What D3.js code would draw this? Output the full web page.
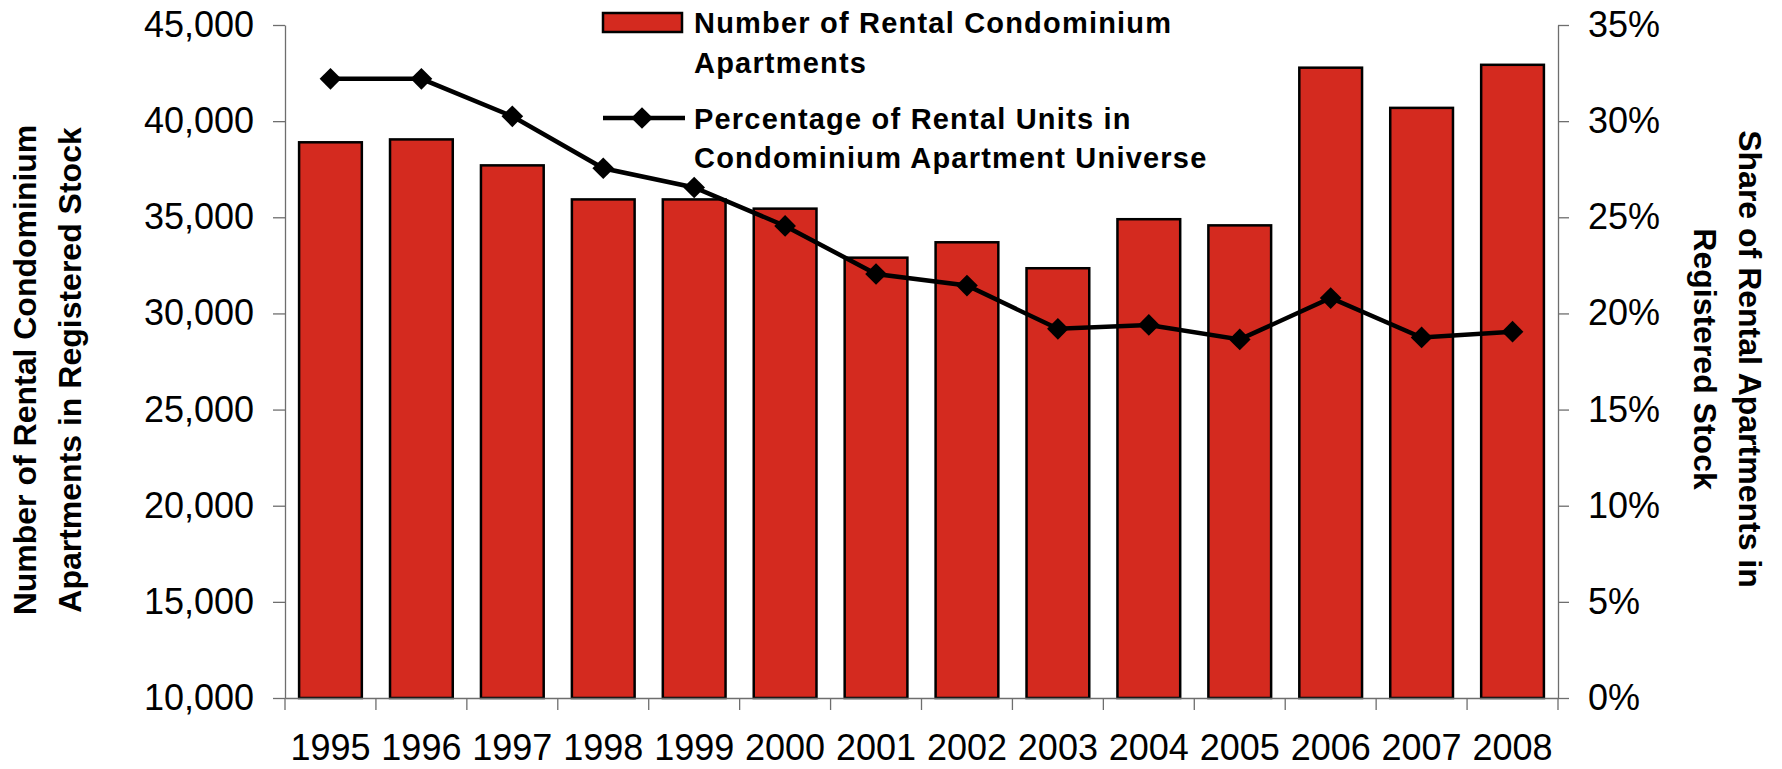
<!DOCTYPE html>
<html>
<head>
<meta charset="utf-8">
<script src="https://cdn.jsdelivr.net/npm/d3@7"></script>
<style>
  body { margin: 0; background: #fff; }
  svg { display: block; font-family: "Liberation Sans", Arial, sans-serif; }
  .axis path, .axis line { stroke: #6e6e6e; stroke-width: 1.3px; }
  .axis text { font-size: 36px; fill: #000; }
  .title { font-size: 32px; font-weight: bold; }
  .legend text { font-size: 29px; font-weight: bold; letter-spacing: 1.2px; }
</style>
</head>
<body>
<div id="chart"><svg></svg></div>
<script>
const years = ['1995','1996','1997','1998','1999','2000','2001','2002','2003','2004','2005','2006','2007','2008'];
const units = [38900, 39050, 37700, 35930, 35930, 35450, 32900, 33700, 32350, 34900, 34580, 42780, 40690, 42930];
const share = [32.2, 32.2, 30.25, 27.55, 26.55, 24.55, 22.05, 21.45, 19.2, 19.4, 18.65, 20.8, 18.75, 19.05];
const leftTicks = [10000, 15000, 20000, 25000, 30000, 35000, 40000, 45000];
const rightTicks = [0, 5, 10, 15, 20, 25, 30, 35];

const width = 1782, height = 769;
const margin = {top: 25, right: 224, bottom: 71, left: 285};
const red = '#D42A1F';

const svg = d3.select('#chart svg')
    .attr('width', width)
    .attr('height', height);

const x = d3.scaleBand()
    .domain(years)
    .range([margin.left, width - margin.right])
    .paddingInner(0.31)
    .paddingOuter(0.155);

const y = d3.scaleLinear()
    .domain([10000, 45000])
    .range([height - margin.bottom, margin.top]);

const y2 = d3.scaleLinear()
    .domain([0, 35])
    .range([height - margin.bottom, margin.top]);

// bars
svg.append('g')
    .selectAll('rect')
    .data(units)
    .join('rect')
    .attr('x', (d, i) => x(years[i]))
    .attr('y', d => y(d))
    .attr('width', x.bandwidth())
    .attr('height', d => y(10000) - y(d))
    .attr('fill', red)
    .attr('stroke', '#000')
    .attr('stroke-width', 2.5);

// axes
svg.append('g')
    .attr('class', 'axis')
    .attr('transform', `translate(${margin.left},0)`)
    .call(d3.axisLeft(y).tickValues(leftTicks).tickSize(12).tickPadding(19).tickSizeOuter(0).tickFormat(d3.format(',')));

svg.append('g')
    .attr('class', 'axis')
    .attr('transform', `translate(${width - margin.right},0)`)
    .call(d3.axisRight(y2).tickValues(rightTicks).tickSize(11).tickPadding(19).tickSizeOuter(0).tickFormat(d => d + '%'));

const xAxis = svg.append('g')
    .attr('class', 'axis')
    .attr('transform', `translate(0,${height - margin.bottom})`)
    .call(d3.axisBottom(x).tickSize(0).tickPadding(36).tickSizeOuter(0));

// category boundary ticks
const bounds = years.map(d => x(d) - x.step() * x.paddingInner() / 2).concat([x.range()[1]]);
xAxis.selectAll('.bound')
    .data(bounds)
    .join('line')
    .attr('class', 'bound')
    .attr('x1', d => d)
    .attr('x2', d => d)
    .attr('y1', 0)
    .attr('y2', 12);

// line series
const line = d3.line()
    .x((d, i) => x(years[i]) + x.bandwidth() / 2)
    .y(d => y2(d));

svg.append('path')
    .datum(share)
    .attr('d', line)
    .attr('fill', 'none')
    .attr('stroke', '#000')
    .attr('stroke-width', 4.5);

const diamond = d3.symbol().type(d3.symbolDiamond2).size(300);

svg.append('g')
    .selectAll('path')
    .data(share)
    .join('path')
    .attr('d', diamond)
    .attr('transform', (d, i) => `translate(${x(years[i]) + x.bandwidth() / 2},${y2(d)})`)
    .attr('fill', '#000');

// axis titles
const leftTitle = svg.append('g')
    .attr('class', 'title')
    .attr('transform', 'translate(0,370) rotate(-90)');
leftTitle.append('text').attr('x', 0).attr('y', 36).attr('text-anchor', 'middle').text('Number of Rental Condominium');
leftTitle.append('text').attr('x', 0).attr('y', 81).attr('text-anchor', 'middle').text('Apartments in Registered Stock');

const rightTitle = svg.append('g')
    .attr('class', 'title')
    .attr('transform', `translate(${width},359) rotate(90)`);
rightTitle.append('text').attr('x', 0).attr('y', 43).attr('text-anchor', 'middle').text('Share of Rental Apartments in');
rightTitle.append('text').attr('x', 0).attr('y', 88).attr('text-anchor', 'middle').text('Registered Stock');

// legend
const legend = svg.append('g').attr('class', 'legend');

legend.append('rect')
    .attr('x', 603).attr('y', 13)
    .attr('width', 79).attr('height', 19)
    .attr('fill', red)
    .attr('stroke', '#000')
    .attr('stroke-width', 2.5);

legend.append('text').attr('x', 694).attr('y', 33).text('Number of Rental Condominium');
legend.append('text').attr('x', 694).attr('y', 73).text('Apartments');

legend.append('line')
    .attr('x1', 603).attr('x2', 685)
    .attr('y1', 118).attr('y2', 118)
    .attr('stroke', '#000')
    .attr('stroke-width', 4.5);
legend.append('path')
    .attr('d', diamond)
    .attr('transform', 'translate(642,118)');

legend.append('text').attr('x', 694).attr('y', 129).text('Percentage of Rental Units in');
legend.append('text').attr('x', 694).attr('y', 168).text('Condominium Apartment Universe');
</script>
</body>
</html>
